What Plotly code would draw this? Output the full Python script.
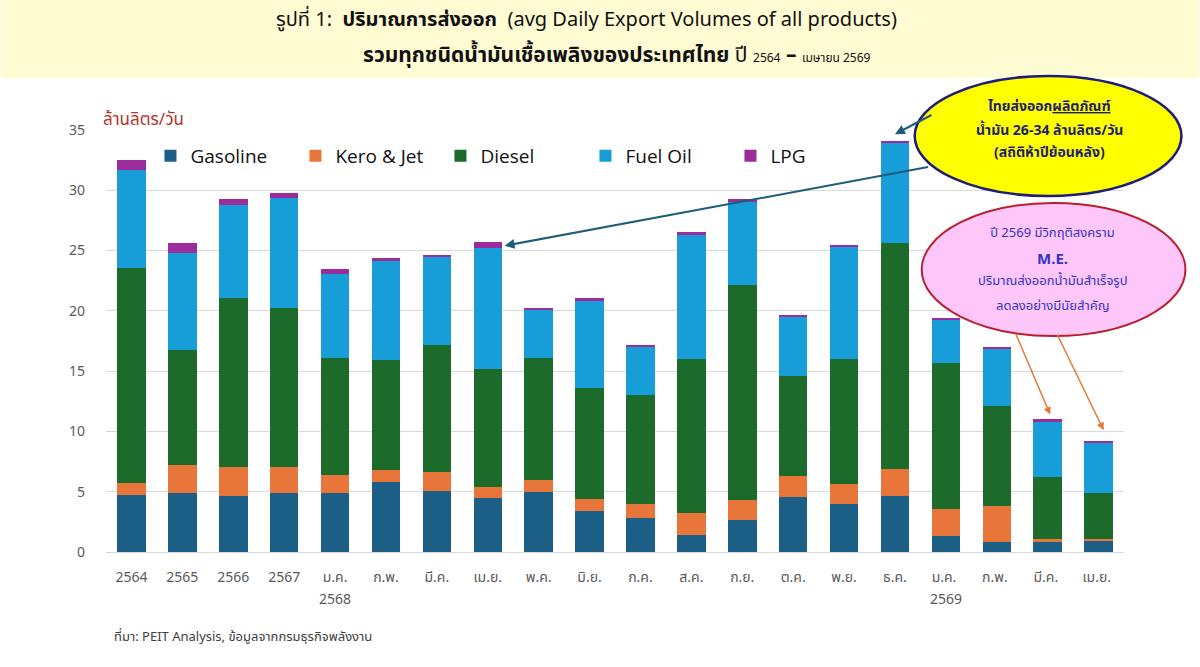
import plotly.graph_objects as go

categories = ["2564", "2565", "2566", "2567", "ม.ค.", "ก.พ.", "มี.ค.", "เม.ย.", "พ.ค.", "มิ.ย.",
              "ก.ค.", "ส.ค.", "ก.ย.", "ต.ค.", "พ.ย.", "ธ.ค.", "ม.ค. ", "ก.พ. ", "มี.ค. ", "เม.ย. "]
year_labels = {4: "2568", 16: "2569"}

gasoline = [4.7, 4.9, 4.65, 4.9, 4.9, 5.8, 5.05, 4.45, 5.0, 3.4, 2.85, 1.45, 2.65, 4.6, 3.95, 4.65, 1.3, 0.85, 0.8, 0.9]
kero_jet = [1.05, 2.3, 2.4, 2.15, 1.45, 1.0, 1.6, 0.95, 1.0, 1.0, 1.1, 1.75, 1.65, 1.7, 1.7, 2.2, 2.25, 3.0, 0.3, 0.2]
diesel   = [17.8, 9.55, 14.05, 13.2, 9.7, 9.1, 10.5, 9.8, 10.1, 9.2, 9.1, 12.8, 17.85, 8.3, 10.35, 18.75, 12.15, 8.3, 5.1, 3.8]
fuel_oil = [8.1, 8.05, 7.65, 9.1, 7.0, 8.2, 7.35, 10.05, 3.95, 7.25, 4.0, 10.35, 6.95, 4.9, 9.35, 8.4, 3.6, 4.75, 4.65, 4.15]
lpg      = [0.9, 0.8, 0.5, 0.4, 0.4, 0.3, 0.15, 0.45, 0.2, 0.2, 0.15, 0.15, 0.15, 0.1, 0.15, 0.1, 0.1, 0.1, 0.15, 0.15]

series = [("Gasoline", gasoline, "#1B5F86"),
          ("Kero & Jet", kero_jet, "#E8763A"),
          ("Diesel", diesel, "#1D6B2B"),
          ("Fuel Oil", fuel_oil, "#179ED8"),
          ("LPG", lpg, "#9C2C9C")]

totals = [sum(v) for v in zip(gasoline, kero_jet, diesel, fuel_oil, lpg)]

THAI = "Noto Sans Thai, Tahoma, Noto Sans, DejaVu Sans, sans-serif"

fig = go.Figure()
for name, vals, col in series:
    fig.add_trace(go.Bar(x=categories, y=vals, name=name, marker=dict(color=col, line=dict(width=0))))

# plot area: x 105.5..1124.5, y 130..552 px
def px(xp):
    return (xp - 105.5) / 1019.0

def py(yp):
    return (552.0 - yp) / 422.0

shapes = [
    dict(type="rect", xref="paper", yref="paper", x0=px(0), x1=px(1200), y0=py(78), y1=py(0),
         fillcolor="#FFFBD2", line=dict(width=0), layer="below"),
    dict(type="circle", xref="paper", yref="paper", x0=px(915), x1=px(1182), y0=py(196), y1=py(76),
         fillcolor="#FFFF00", line=dict(color="#1E1E7A", width=2.5), layer="above"),
    dict(type="circle", xref="paper", yref="paper", x0=px(922), x1=px(1186), y0=py(336), y1=py(203),
         fillcolor="#FFC6FA", line=dict(color="#B81E2E", width=2), layer="above"),
]

annotations = [
    dict(xref="paper", yref="paper", x=px(586), y=py(20), xanchor="center", yanchor="middle", showarrow=False,
         text="รูปที่ 1:  <b>ปริมาณการส่งออก</b>  (avg Daily Export Volumes of all products)",
         font=dict(family=THAI, size=20, color="#111111")),
    dict(xref="paper", yref="paper", x=px(617), y=py(55), xanchor="center", yanchor="middle", showarrow=False,
         text="<b>รวมทุกชนิดน้ำมันเชื้อเพลิงของประเทศไทย</b> ปี <span style='font-size:12px'>2564</span> <b>–</b> <span style='font-size:12px'>เมษายน 2569</span>",
         font=dict(family=THAI, size=21, color="#111111")),
    dict(xref="paper", yref="paper", x=px(100), y=py(120), xanchor="left", yanchor="middle", showarrow=False,
         text="ล้านลิตร/วัน", font=dict(family=THAI, size=17, color="#B5322E")),
    dict(xref="paper", yref="paper", x=px(112), y=py(637), xanchor="left", yanchor="middle", showarrow=False,
         text="ที่มา: PEIT Analysis, ข้อมูลจากกรมธุรกิจพลังงาน", font=dict(family=THAI, size=13, color="#404040")),
    # yellow ellipse text
    dict(xref="paper", yref="paper", x=px(1050), y=py(107), xanchor="center", yanchor="middle", showarrow=False,
         text="<b>ไทยส่งออก<u>ผลิตภัณฑ์</u></b>", font=dict(family=THAI, size=14, color="#1E1E6E")),
    dict(xref="paper", yref="paper", x=px(1050), y=py(130), xanchor="center", yanchor="middle", showarrow=False,
         text="<b>น้ำมัน 26-34 ล้านลิตร/วัน</b>", font=dict(family=THAI, size=14, color="#1E1E6E")),
    dict(xref="paper", yref="paper", x=px(1050), y=py(152), xanchor="center", yanchor="middle", showarrow=False,
         text="<b>(สถิติห้าปีย้อนหลัง)</b>", font=dict(family=THAI, size=14, color="#1E1E6E")),
    # pink ellipse text
    dict(xref="paper", yref="paper", x=px(1053), y=py(233), xanchor="center", yanchor="middle", showarrow=False,
         text="ปี 2569 มีวิกฤติสงคราม", font=dict(family=THAI, size=13, color="#3434C8")),
    dict(xref="paper", yref="paper", x=px(1053), y=py(259), xanchor="center", yanchor="middle", showarrow=False,
         text="<b>M.E.</b>", font=dict(family=THAI, size=15, color="#3434C8")),
    dict(xref="paper", yref="paper", x=px(1053), y=py(281), xanchor="center", yanchor="middle", showarrow=False,
         text="ปริมาณส่งออกน้ำมันสำเร็จรูป", font=dict(family=THAI, size=13, color="#3434C8")),
    dict(xref="paper", yref="paper", x=px(1053), y=py(306), xanchor="center", yanchor="middle", showarrow=False,
         text="ลดลงอย่างมีนัยสำคัญ", font=dict(family=THAI, size=13, color="#3434C8")),
    # arrows from yellow ellipse
    dict(x=15, y=totals[15] + 0.55, xref="x", yref="y", ax=38, ay=-20, text="", showarrow=True,
         arrowhead=2, arrowsize=1, arrowwidth=2, arrowcolor="#1F5C7A"),
    dict(x=7.33, y=totals[7] - 0.3, xref="x", yref="y", ax=425, ay=-79, text="", showarrow=True,
         arrowhead=2, arrowsize=1, arrowwidth=2, arrowcolor="#1F5C7A"),
    # orange arrows from pink ellipse
    dict(x=18.05, y=totals[18] + 0.4, xref="x", yref="y", ax=-35, ay=-82, text="", showarrow=True,
         arrowhead=2, arrowsize=1, arrowwidth=1.5, arrowcolor="#E07A38"),
    dict(x=19.1, y=totals[19] + 0.9, xref="x", yref="y", ax=-47, ay=-97, text="", showarrow=True,
         arrowhead=2, arrowsize=1, arrowwidth=1.5, arrowcolor="#E07A38"),
]

for idx, yr in year_labels.items():
    annotations.append(dict(x=idx, xref="x", yref="paper", y=py(599), xanchor="center", yanchor="middle",
                            showarrow=False, text=yr, font=dict(family=THAI, size=14, color="#595959")))

fig.update_layout(
    width=1200, height=667,
    margin=dict(l=105.5, r=75.5, t=130, b=115),
    paper_bgcolor="white", plot_bgcolor="white",
    barmode="stack", bargap=0.44,
    font=dict(family=THAI, color="#595959"),
    shapes=shapes, annotations=annotations,
    legend=dict(orientation="h", x=px(150), y=py(156), xanchor="left", yanchor="middle",
                font=dict(family="Open Sans, Noto Sans, sans-serif", size=19, color="#111111"),
                bgcolor="rgba(0,0,0,0)", traceorder="normal", itemwidth=30,
                entrywidth=100, entrywidthmode="pixels"),
    xaxis=dict(type="category", tickfont=dict(size=14, color="#595959"), showline=True, linecolor="#D9D9D9",
               ticks="", ticklabelstandoff=12, showgrid=False),
    yaxis=dict(range=[0, 35], dtick=5, tickfont=dict(size=14, color="#595959"), gridcolor="#D9D9D9",
               showline=False, zeroline=False, ticks="", ticklabelstandoff=20),
    showlegend=True,
)

fig.write_html("out.html")
